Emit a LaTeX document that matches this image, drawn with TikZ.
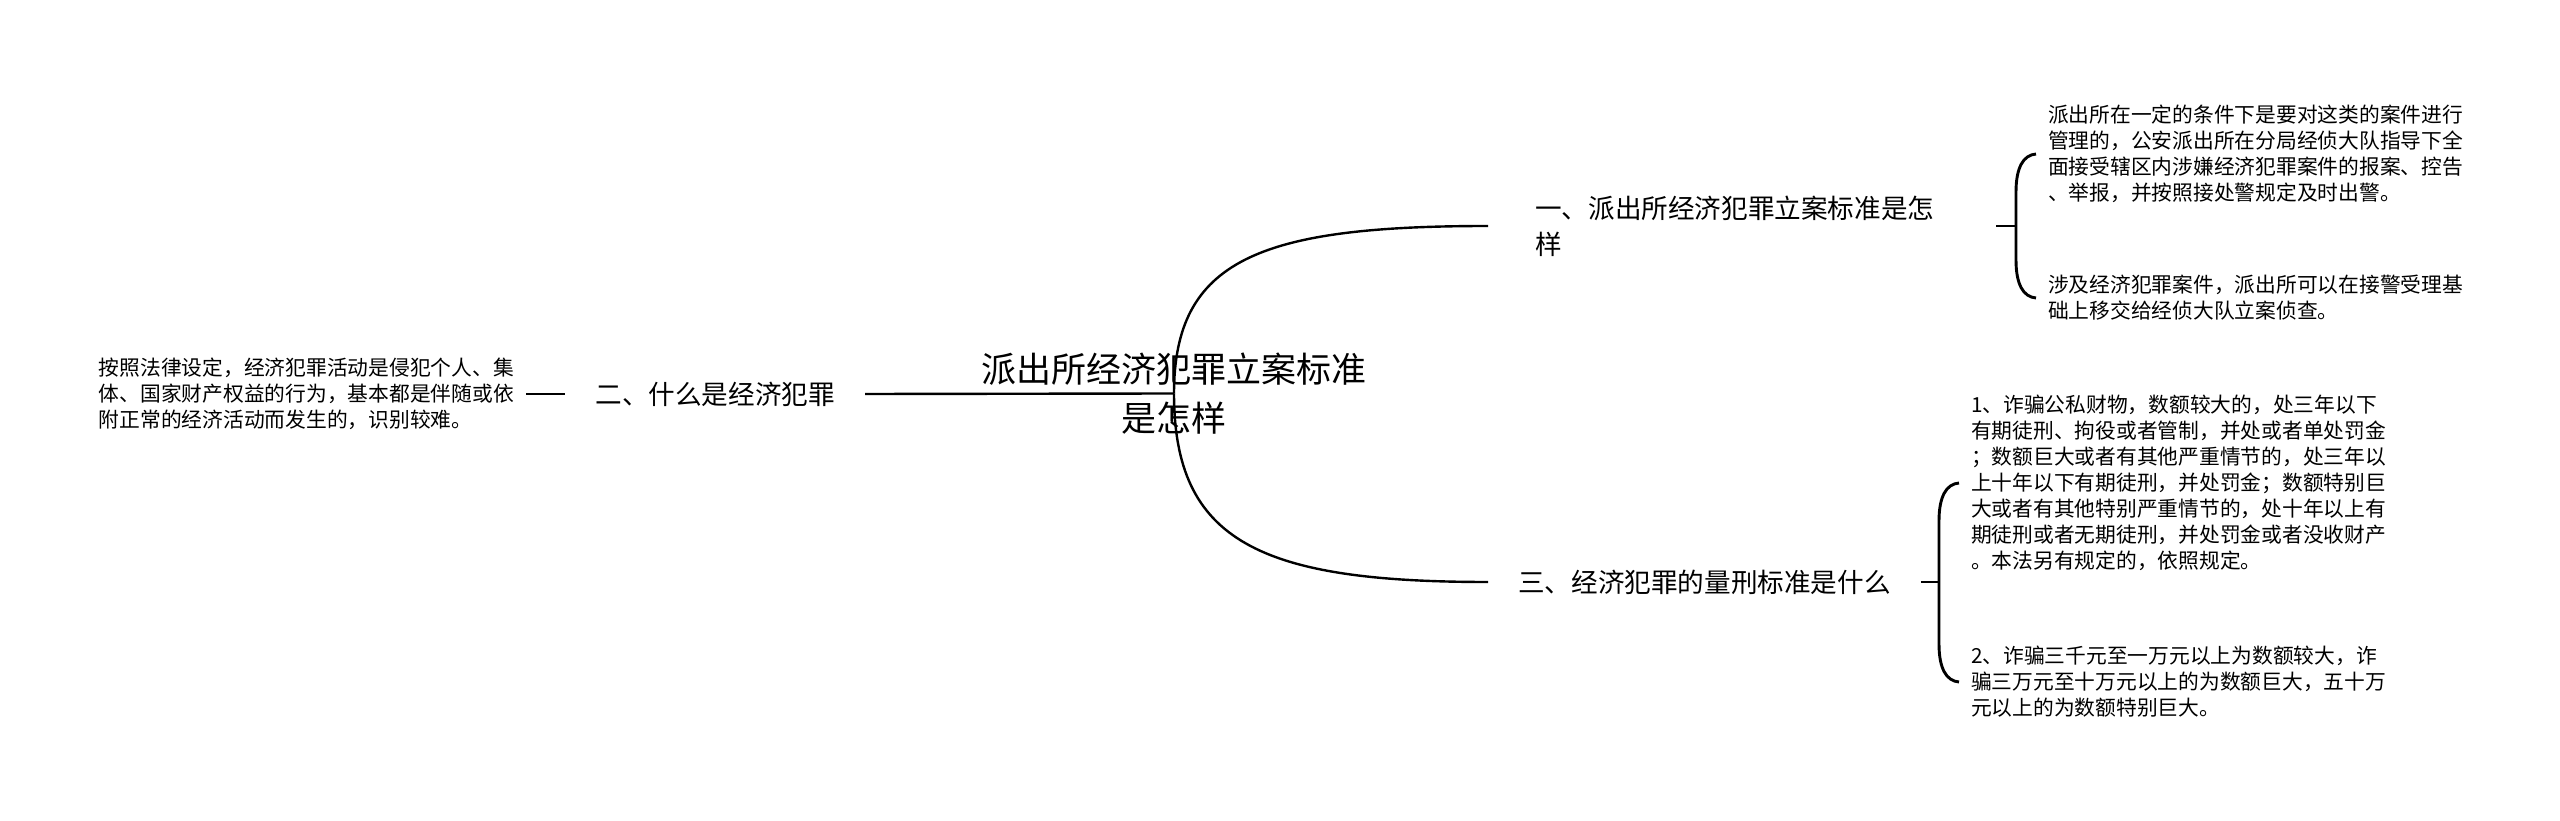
\documentclass[tikz,border=0pt]{standalone}
\usepackage{fontspec}
\newfontfamily\cjk{Noto Sans CJK SC}
\usetikzlibrary{calc}

\tikzset{
  rootnode/.style={font=\cjk\fontsize{35}{49}\selectfont,align=center,inner sep=0pt},
  branch/.style={font=\cjk\fontsize{26.6}{36}\selectfont,align=left,inner xsep=30pt,inner ysep=0pt},
  leaf/.style={font=\cjk\fontsize{20.75}{26}\selectfont,align=left,inner xsep=12pt,inner ysep=0pt},
  link/.style={line width=2.4pt},
  bracelink/.style={line width=2.9pt}
}

\begin{document}
\begin{tikzpicture}[x=1pt,y=1pt]
\useasboundingbox (0,0) rectangle (2560,820);

\node[rootnode] (root) at (1174,426.5) {派出所经济犯罪立案标准\\是怎样};

\node[branch,anchor=west,inner xsep=47pt,text width=414pt] (b1) at (1488,594) {一、派出所经济犯罪立案标准是怎\\样};
\node[branch,anchor=east] (b2) at (865,426) {二、什么是经济犯罪};
\node[branch,anchor=west] (b3) at (1488,238) {三、经济犯罪的量刑标准是什么};

\node[leaf,anchor=west] (l1a) at (2036,666) {派出所在一定的条件下是要对这类的案件进行\\管理的，公安派出所在分局经侦大队指导下全\\面接受辖区内涉嫌经济犯罪案件的报案、控告\\、举报，并按照接处警规定及时出警。};
\node[leaf,anchor=west] (l1b) at (2036,522) {涉及经济犯罪案件，派出所可以在接警受理基\\础上移交给经侦大队立案侦查。};
\node[leaf,anchor=east] (l2) at (526,426) {按照法律设定，经济犯罪活动是侵犯个人、集\\体、国家财产权益的行为，基本都是伴随或依\\附正常的经济活动而发生的，识别较难。};
\node[leaf,anchor=west] (l3a) at (1959,337) {1、诈骗公私财物，数额较大的，处三年以下\\有期徒刑、拘役或者管制，并处或者单处罚金\\；数额巨大或者有其他严重情节的，处三年以\\上十年以下有期徒刑，并处罚金；数额特别巨\\大或者有其他特别严重情节的，处十年以上有\\期徒刑或者无期徒刑，并处罚金或者没收财产\\。本法另有规定的，依照规定。};
\node[leaf,anchor=west] (l3b) at (1959,138) {2、诈骗三千元至一万元以上为数额较大，诈\\骗三万元至十万元以上的为数额巨大，五十万\\元以上的为数额特别巨大。};

\coordinate (k1) at (2016,594);
\coordinate (k3) at (1939,238);

\draw[link] (b2.east) -- (root.center);
\draw[link] (root.center) .. controls +(0,134) and +(-228,0) .. (b1.west);
\draw[link] (root.center) .. controls +(0,-148) and +(-228,0) .. (b3.west);
\draw[link] (l2.east) -- (b2.west);

\draw[link] (b1.east) -- (k1);
\draw[bracelink] (l1a.west) .. controls +(-13,-1) and +(0,24) .. ($(k1|-l1a.west)+(0,-38)$)
  -- ($(k1|-l1b.west)+(0,38)$) .. controls +(0,-24) and +(-13,1) .. (l1b.west);

\draw[link] (b3.east) -- (k3);
\draw[bracelink] (l3a.west) .. controls +(-13,-1) and +(0,24) .. ($(k3|-l3a.west)+(0,-38)$)
  -- ($(k3|-l3b.west)+(0,38)$) .. controls +(0,-24) and +(-13,1) .. (l3b.west);

\end{tikzpicture}
\end{document}
